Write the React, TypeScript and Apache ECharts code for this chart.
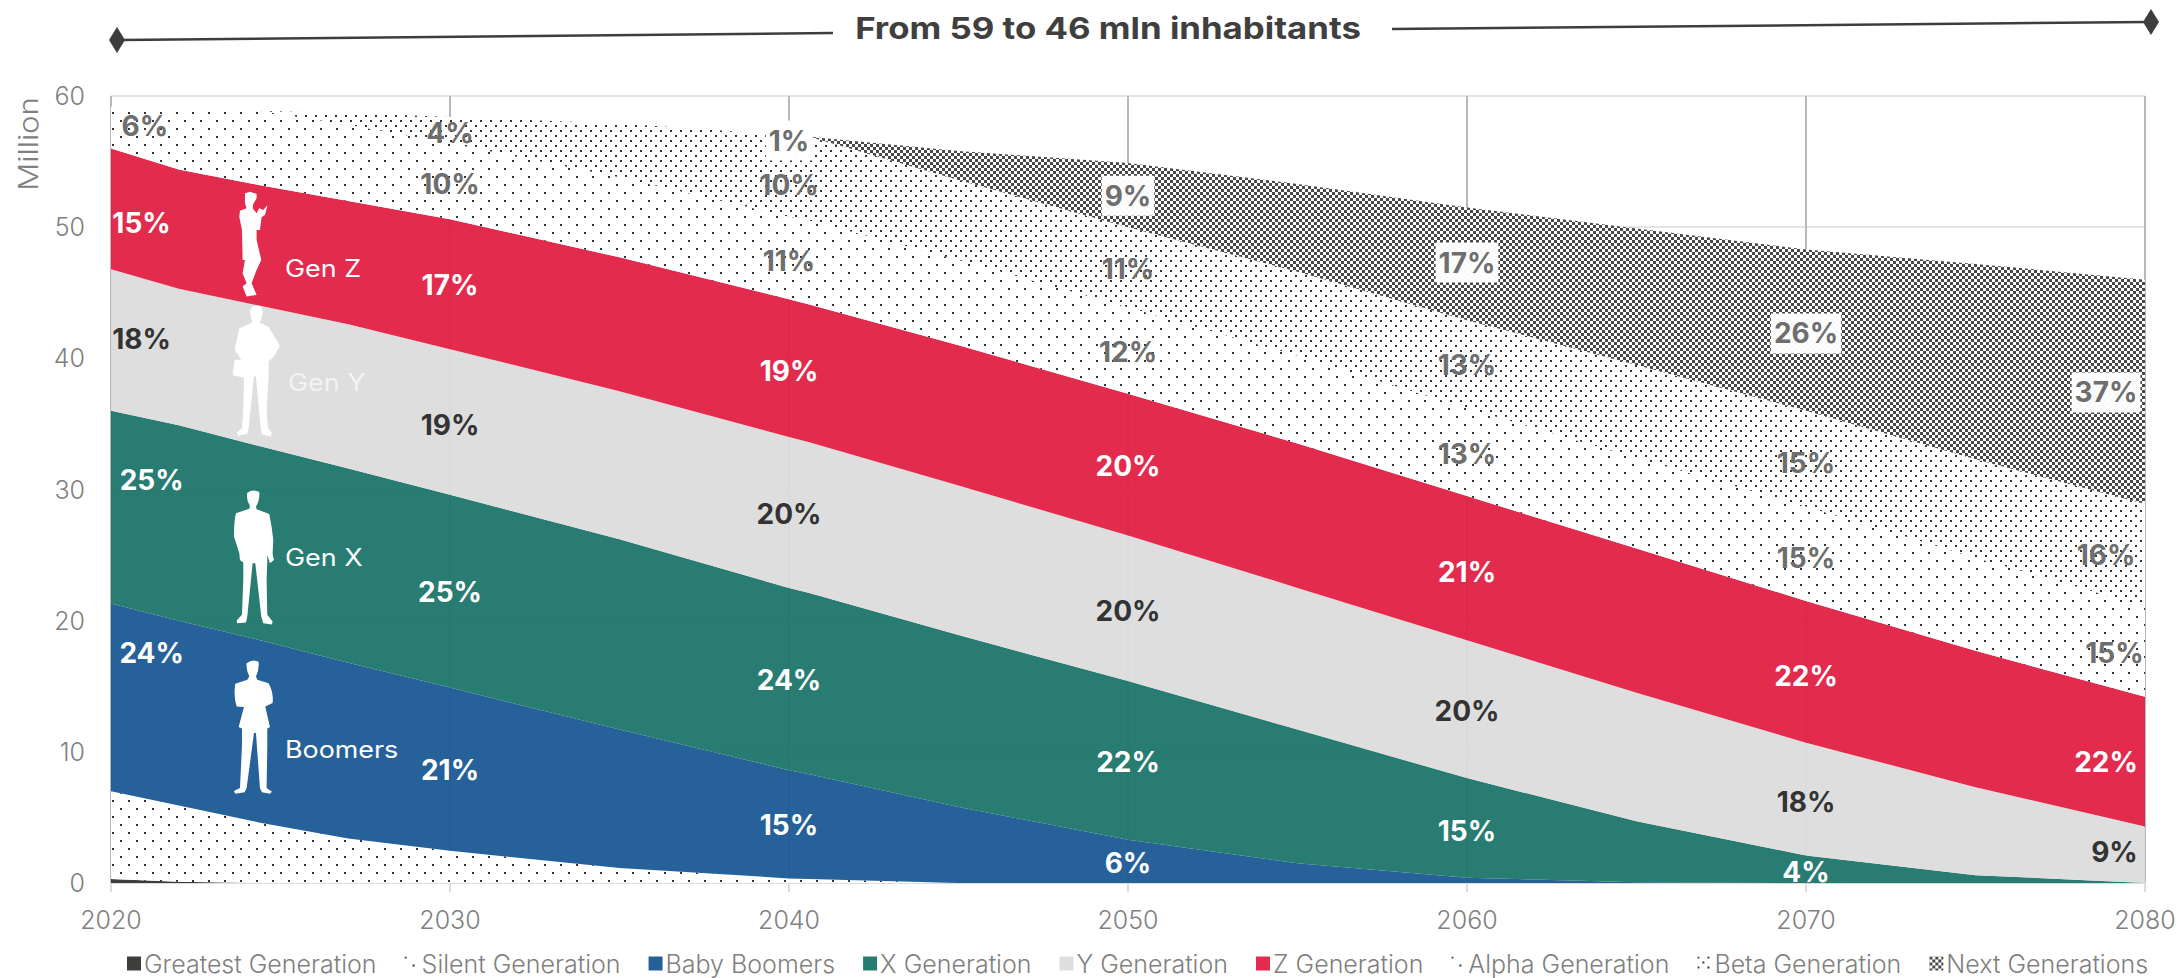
import React, { useEffect, useRef } from "react";
import * as echarts from "echarts";

const FONT = "Inter, 'Noto Sans', sans-serif";

const years = [2020, 2022, 2024.4, 2027, 2030, 2035, 2040, 2040.6, 2045, 2050, 2055, 2060, 2065, 2070, 2075, 2080];
const greatest = [0.3, 0.1, 0, 0, 0, 0, 0, 0, 0, 0, 0, 0, 0, 0, 0, 0];
const silent = [6.7, 5.8, 4.6, 3.4, 2.45, 1.15, 0.35, 0.3, 0, 0, 0, 0, 0, 0, 0, 0];
const boomers = [14.3, 14.1, 13.9, 13.4, 12.45, 10.55, 8.25, 8.0, 5.8, 3.3, 1.5, 0.4, 0.05, 0, 0, 0];
const genX = [14.7, 14.9, 14.8, 14.8, 14.7, 14.5, 13.9, 13.8, 13.1, 12.1, 10.2, 7.6, 4.65, 2.1, 0.6, 0];
const genY = [10.8, 10.4, 10.7, 11.0, 11.1, 11.3, 11.5, 11.5, 11.4, 11.1, 10.8, 10.5, 9.8, 8.6, 6.7, 4.3];
const genZ = [9.2, 9.1, 9.2, 9.4, 9.9, 10.2, 10.5, 10.5, 10.7, 10.8, 11, 11, 11, 10.8, 10.4, 9.9];
const alpha = [3.2, 4.6, 5.65, 5.8, 5.8, 6.1, 6.3, 6.4, 6.5, 6.6, 6.7, 6.7, 6.9, 7.2, 7.1, 6.9];
const beta = [0, 0, 0, 0.9, 2, 4.1, 6.2, 6.4, 6.1, 6.1, 6.4, 6.7, 7.1, 7.3, 7.5, 7.8];
const next = [0, 0, 0, 0, 0, 0, 0, 0, 2.2, 4.9, 6.7, 8.6, 10.4, 12.3, 14.9, 17.1];

const whiteLabels: [number, number, string][] = [
  [2020.9, 50.3, "15%"], [2021.2, 30.7, "25%"], [2021.2, 17.5, "24%"],
  [2030, 45.6, "17%"], [2030, 22.2, "25%"], [2030, 8.6, "21%"],
  [2040, 39, "19%"], [2040, 15.5, "24%"], [2040, 4.4, "15%"],
  [2050, 31.8, "20%"], [2050, 9.2, "22%"], [2050, 1.5, "6%"],
  [2060, 23.7, "21%"], [2060, 4, "15%"],
  [2070, 15.8, "22%"], [2070, 0.85, "4%"],
  [2078.85, 9.2, "22%"],
];
const darkLabels: [number, number, string][] = [
  [2020.9, 41.5, "18%"], [2030, 34.9, "19%"], [2040, 28.1, "20%"], [2050, 20.7, "20%"],
  [2060, 13.1, "20%"], [2070, 6.2, "18%"], [2079.1, 2.4, "9%"],
];
const greyLabels: [number, number, string][] = [
  [2021, 57.7, "6%"], [2030, 57.2, "4%"], [2030, 53.3, "10%"],
  [2040, 53.2, "10%"], [2040, 47.4, "11%"], [2050, 46.8, "11%"], [2050, 40.5, "12%"],
  [2060, 39.5, "13%"], [2060, 32.7, "13%"], [2070, 32, "15%"], [2070, 24.8, "15%"],
  [2078.85, 25, "16%"], [2079.1, 17.5, "15%"],
];
const boxedLabels: [number, number, string][] = [
  [2040, 56.6, "1%"], [2050, 52.4, "9%"], [2060, 47.3, "17%"], [2070, 41.9, "26%"], [2078.85, 37.4, "37%"],
];

const PERSON_X = "M112,38 Q130,26 148,36 Q150,60 138,80 L140,88 L178,102 Q186,140 190,180 L188,222 L192,240 L180,250 L172,225 L172,245 L170,300 L172,405 L188,425 L186,434 L160,430 L154,410 L136,250 L128,250 L112,410 L108,428 L82,430 L80,422 L96,405 L100,300 L100,248 L90,240 L88,220 L72,170 Q72,120 78,100 L118,86 L120,78 Q108,60 112,38 Z";
const PERSON_B = "M110,550 Q128,536 146,546 Q148,570 138,590 L142,600 L176,610 Q192,640 188,670 L166,680 L180,742 L172,746 L172,800 L170,925 L186,936 L180,942 L156,938 L150,925 L138,760 L132,760 L110,925 L104,938 L76,942 L72,934 L90,925 L96,800 L96,746 L86,742 L102,682 L80,680 Q70,650 76,612 L112,600 L118,590 Q108,570 110,550 Z";
const PERSON_Y = "M150,395 Q155,375 172,377 Q190,380 188,400 Q186,420 178,428 L205,440 L240,498 L222,530 L206,545 L206,590 L200,690 L204,745 L216,760 L212,770 L186,764 L182,745 L168,590 L162,590 L146,745 L142,762 L115,768 L110,760 L126,745 L130,690 L132,594 L98,586 L104,540 L124,540 L104,510 L118,445 L150,432 L158,425 Q150,412 150,395 Z";
const PERSON_Z = "M135,40 L150,35 L170,42 L170,55 L160,72 L158,85 L170,100 L178,85 L190,90 L203,75 L195,105 L185,112 L180,150 L170,150 L170,180 L184,240 L170,270 L155,310 L170,345 L140,350 L128,320 L140,310 L128,280 L135,240 L128,240 L126,150 L118,110 L120,92 L140,85 L135,70 Z";

echarts.graphic.registerShape("personX", echarts.graphic.extendPath(PERSON_X, {}));
echarts.graphic.registerShape("personB", echarts.graphic.extendPath(PERSON_B, {}));
echarts.graphic.registerShape("personY", echarts.graphic.extendPath(PERSON_Y, {}));
echarts.graphic.registerShape("personZ", echarts.graphic.extendPath(PERSON_Z, {}));

function tile(size: number, cells: [number, number, number][], ink = "#333333") {
  const c = document.createElement("canvas");
  c.width = size;
  c.height = size;
  const g = c.getContext("2d")!;
  g.fillStyle = "#ffffff";
  g.fillRect(0, 0, size, size);
  g.fillStyle = ink;
  cells.forEach(([x, y, s]) => g.fillRect(x, y, s, s));
  return { image: c, repeat: "repeat", imageWidth: size, imageHeight: size };
}

export default function App() {
  const ref = useRef<HTMLDivElement>(null);
  useEffect(() => {
    const chart = echarts.init(ref.current!, undefined, { renderer: "svg" });
    const sparse = tile(16, [[0, 0, 2], [8, 8, 2]]);
    const sparse2 = tile(16, [[0, 0, 2], [8, 8, 2]]);
    const dense = tile(10, [[0, 0, 2], [5, 5, 2]]);
    const checks = tile(6, [[0, 0, 3], [3, 3, 3]], "#484848");
    const defs: { name: string; values: number[]; color: any }[] = [
      { name: "Greatest Generation", values: greatest, color: "#3d3d3b" },
      { name: "Silent Generation", values: silent, color: sparse },
      { name: "Baby Boomers", values: boomers, color: "rgba(26,88,148,0.95)" },
      { name: "X Generation", values: genX, color: "rgba(28,117,105,0.95)" },
      { name: "Y Generation", values: genY, color: "rgba(220,220,220,0.95)" },
      { name: "Z Generation", values: genZ, color: "rgba(226,32,69,0.95)" },
      { name: "Alpha Generation", values: alpha, color: sparse2 },
      { name: "Beta Generation", values: beta, color: dense },
      { name: "Next Generations", values: next, color: checks },
    ];
    const legendColors: Record<string, string> = {
      "Baby Boomers": "#266099", "X Generation": "#277c70", "Y Generation": "#dedede", "Z Generation": "#e32b4e",
    };
    const running = years.map(() => 0);
    const bandSeries = defs.map((d) => {
      const base = running.slice();
      d.values.forEach((v, i) => (running[i] += v));
      const top = running.slice();
      return {
        name: d.name,
        type: "custom",
        silent: true,
        z: 2,
        itemStyle: { color: d.color },
        encode: { x: 0, y: 1 },
        data: years.map((y, i) => [y, top[i], base[i]]),
        renderItem: (params: any, api: any) => {
          if (params.dataIndex !== 0) return null;
          const upper = years.map((y, i) => api.coord([y, top[i]]));
          const lower = years.map((y, i) => api.coord([y, base[i]])).reverse();
          return {
            type: "polygon",
            shape: { points: upper.concat(lower) },
            style: { fill: d.color, stroke: null },
          };
        },
      };
    });
    const labelSeries = (name: string, items: [number, number, string][], color: string, boxed = false) => ({
      name,
      type: "scatter",
      symbolSize: 0,
      silent: true,
      z: 6,
      itemStyle: { opacity: 1 },
      data: items.map((d) => ({ value: [d[0], d[1]], label: { formatter: d[2] } })),
      label: {
        show: true,
        position: "inside",
        color,
        fontFamily: FONT,
        fontWeight: 700,
        fontSize: 28,
        textBorderWidth: 0,
        ...(boxed ? { backgroundColor: "rgba(255,255,255,0.97)", padding: [7, 3, 5, 3] } : {}),
      },
    });
    const person = (type: string, x: number, y: number) => ({
      type, x, y, scaleX: 1 / 3, scaleY: 1 / 3, z: 20, style: { fill: "#ffffff" },
    });
    const genText = (text: string, x: number, y: number, fill = "#ffffff") => ({
      type: "text", x, y, z: 20, scaleX: 1.12,
      style: { text, fill, font: `400 24px ${FONT}`, textAlign: "left", textVerticalAlign: "middle" },
    });
    chart.setOption({
      animation: false,
      grid: { left: 111, right: 35, top: 96, bottom: 95, containLabel: false },
      legend: {
        left: 122,
        top: 946,
        icon: "rect",
        itemWidth: 14,
        itemHeight: 14,
        itemGap: 28,
        selectedMode: false,
        textStyle: { color: "#808080", fontFamily: FONT, fontWeight: 300, fontSize: 25, padding: [0, 0, 0, -2] },
        data: defs.map((d) => ({
          name: d.name,
          icon: "rect",
          itemStyle: { color: legendColors[d.name] || d.color },
        })),
      },
      xAxis: {
        type: "value",
        min: 2020,
        max: 2080,
        interval: 10,
        axisLine: { show: true, lineStyle: { color: "#dcdcdc", width: 2 } },
        axisTick: { show: true, length: 9, lineStyle: { color: "#dcdcdc", width: 2 } },
        axisLabel: { color: "#808080", fontFamily: FONT, fontWeight: 300, fontSize: 25, margin: 24, formatter: (v: number) => String(v) },
        splitLine: { show: true, lineStyle: { color: "#b8b8b8", width: 2 } },
      },
      yAxis: {
        type: "value",
        min: 0,
        max: 60,
        interval: 10,
        axisLine: { show: false },
        axisTick: { show: false },
        axisLabel: { color: "#808080", fontFamily: FONT, fontWeight: 300, fontSize: 25, margin: 26 },
        splitLine: { show: true, lineStyle: { color: "#e4e4e4", width: 2 } },
      },
      series: [
        ...bandSeries,
        labelSeries("labels-white", whiteLabels, "#ffffff"),
        labelSeries("labels-dark", darkLabels, "#333333"),
        labelSeries("labels-grey", greyLabels, "#6e6e6e"),
        labelSeries("labels-boxed", boxedLabels, "#6e6e6e", true),
      ],
      graphic: [
        { type: "line", z: 10, shape: { x1: 120, y1: 40, x2: 833, y2: 33 }, style: { stroke: "#3d3d3b", lineWidth: 2.5 } },
        { type: "line", z: 10, shape: { x1: 1392, y1: 29, x2: 2148, y2: 22 }, style: { stroke: "#3d3d3b", lineWidth: 2.5 } },
        { type: "polygon", z: 11, shape: { points: [[117, 27], [125, 40], [117, 53], [109, 40]] }, style: { fill: "#3d3d3b" } },
        { type: "polygon", z: 11, shape: { points: [[2151, 9], [2159, 22], [2151, 35], [2143, 22]] }, style: { fill: "#3d3d3b" } },
        {
          type: "text", x: 1108, y: 28, z: 11, scaleX: 1.16,
          style: { text: "From 59 to 46 mln inhabitants", fill: "#3f3f3f", font: `700 30px ${FONT}`, textAlign: "center", textVerticalAlign: "middle" },
        },
        {
          type: "text", x: 28, y: 144, rotation: Math.PI / 2, z: 11, scaleX: 1.15,
          style: { text: "Million", fill: "#808080", font: `300 27px ${FONT}`, textAlign: "center", textVerticalAlign: "middle" },
        },
        person("personZ", 200, 180),
        person("personY", 200, 180),
        person("personX", 210, 480),
        person("personB", 210, 480),
        genText("Gen Z", 285, 268),
        genText("Gen Y", 288, 382, "#f3f3f3"),
        genText("Gen X", 285, 557),
        genText("Boomers", 285, 749),
      ],
    });
    return () => chart.dispose();
  }, []);
  return <div ref={ref} style={{ position: "absolute", left: 0, top: 0, width: 2180, height: 978 }} />;
}
